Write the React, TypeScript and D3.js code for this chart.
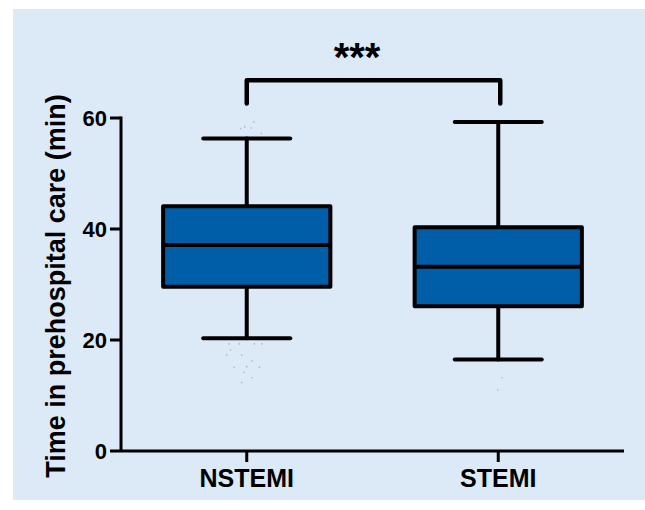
import React from "react";
import * as d3 from "d3";

const categories = ["NSTEMI", "STEMI"];
const whiskerLow = [20.3, 16.5];
const q1 = [29.6, 26.1];
const medians = [37.1, 33.2];
const q3 = [44.1, 40.3];
const whiskerHigh = [56.3, 59.3];
const yTicks = [0, 20, 40, 60];
const yTitle = "Time in prehospital care (min)";
const significance = "***";

// faint outlying points (value, horizontal jitter as fraction of category step)
const nstemiOutliers = [19.3, 19.3, 19.3, 19.3, 18.2, 17.3, 17.3, 16.2, 15.1, 15.2, 15.1, 14.2, 13.2, 12.3, 58.1, 58.4, 58.2, 59.3, 57.2];
const nstemiJitter = [-0.07, -0.03, 0.03, 0.06, -0.065, -0.08, -0.02, 0.02, -0.05, 0.0, 0.05, -0.01, 0.02, -0.02, -0.025, -0.008, 0.018, 0.028, 0.058];
const stemiOutliers = [13.2, 11.0];
const stemiJitter = [0.015, -0.002];

const W = 645;
const H = 510;
const BOX_FILL = "#005ea9";
const BG = "#dce9f7";
const FONT = "'Liberation Sans', Arial, sans-serif";

export default function App() {
  const y = d3.scaleLinear().domain([0, 60]).range([451, 118]);
  const x = d3.scalePoint<string>().domain(categories).range([121, 624]).padding(0.5);
  const step = x.step();
  const boxW = step * 0.665;
  const capW = step * 0.346;

  const outliers = [
    { cat: categories[0], values: nstemiOutliers, jitter: nstemiJitter },
    { cat: categories[1], values: stemiOutliers, jitter: stemiJitter },
  ];

  const bx0 = x(categories[0])!;
  const bx1 = x(categories[1])! + 2;
  const bracketTop = y(66.8);
  const bracketLeg = y(62.6);

  return (
    <svg width={W} height={H} style={{ position: "absolute", left: 0, top: 0 }} fontFamily={FONT}>
      <rect x={0} y={0} width={W} height={H} fill="#ffffff" />
      <rect x={13} y={9} width={W - 13} height={491} fill={BG} />

      {/* outliers */}
      {outliers.map((o) =>
        o.values.map((v, i) => (
          <circle key={o.cat + i} cx={x(o.cat)! + o.jitter[i] * step} cy={y(v)} r={0.8} fill="#8d9aab" opacity={0.7} />
        ))
      )}

      {/* boxes */}
      {categories.map((c, i) => {
        const cx = x(c)!;
        return (
          <g key={c} stroke="#000" strokeWidth={4} strokeLinecap="round" strokeLinejoin="round">
            <line x1={cx} x2={cx} y1={y(whiskerHigh[i])} y2={y(q3[i])} />
            <line x1={cx} x2={cx} y1={y(q1[i])} y2={y(whiskerLow[i])} />
            <line x1={cx - capW / 2} x2={cx + capW / 2} y1={y(whiskerHigh[i])} y2={y(whiskerHigh[i])} />
            <line x1={cx - capW / 2} x2={cx + capW / 2} y1={y(whiskerLow[i])} y2={y(whiskerLow[i])} />
            <rect x={cx - boxW / 2} y={y(q3[i])} width={boxW} height={y(q1[i]) - y(q3[i])} fill={BOX_FILL} />
            <line x1={cx - boxW / 2} x2={cx + boxW / 2} y1={y(medians[i])} y2={y(medians[i])} strokeLinecap="butt" />
          </g>
        );
      })}

      {/* axes */}
      <g stroke="#000" strokeWidth={3} fill="none">
        <line x1={121} x2={121} y1={y(60) - 1.5} y2={y(0)} />
        <line x1={121} x2={624} y1={y(0)} y2={y(0)} />
        {yTicks.map((t) => (
          <line key={t} x1={110} x2={121} y1={y(t)} y2={y(t)} />
        ))}
        {categories.map((c) => (
          <line key={c} x1={x(c)!} x2={x(c)!} y1={y(0)} y2={y(0) + 11} />
        ))}
      </g>
      {yTicks.map((t) => (
        <text key={t} x={107} y={y(t)} dy="0.36em" textAnchor="end" fontSize={22} fontWeight="bold" fill="#000">
          {t}
        </text>
      ))}
      {categories.map((c) => (
        <text key={c} x={x(c)!} y={487} textAnchor="middle" fontSize={25} fontWeight="bold" fill="#000">
          {c}
        </text>
      ))}
      <text transform="translate(65,286) rotate(-90)" textAnchor="middle" fontSize={27} fontWeight="bold" fill="#000">
        {yTitle}
      </text>

      {/* significance bracket */}
      <path
        d={`M${bx0},${bracketLeg} L${bx0},${bracketTop} L${bx1},${bracketTop} L${bx1},${bracketLeg}`}
        fill="none"
        stroke="#000"
        strokeWidth={4.5}
        strokeLinecap="round"
        strokeLinejoin="round"
      />
      <text x={357} y={71} textAnchor="middle" fontSize={40} fontWeight="bold" fill="#000">
        {significance}
      </text>
    </svg>
  );
}
